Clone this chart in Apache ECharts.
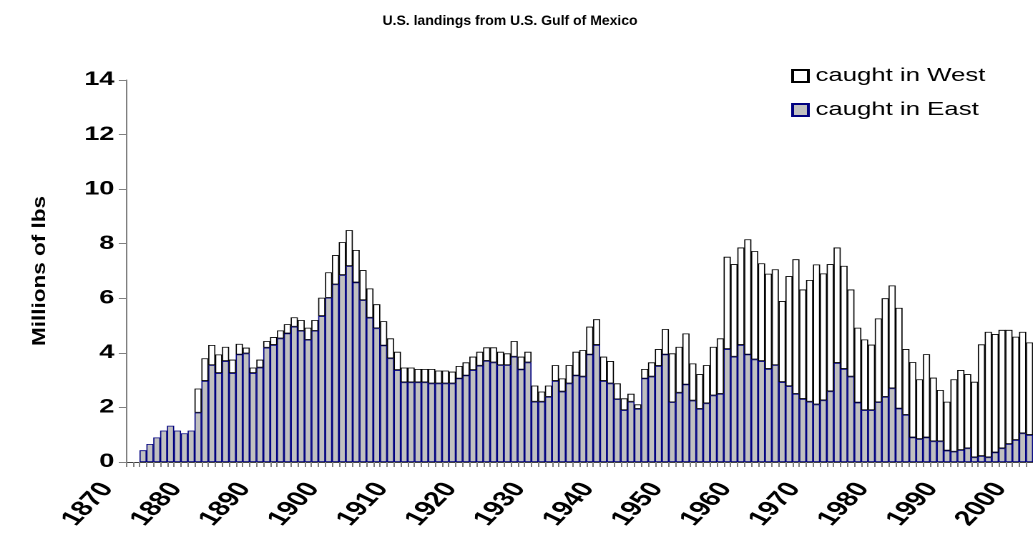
<!DOCTYPE html>
<html>
<head>
<meta charset="utf-8">
<script src="https://cdn.jsdelivr.net/npm/echarts/dist/echarts.min.js"></script>
<style>
  html, body { margin: 0; padding: 0; background: #fff; overflow: hidden; }
  /* the original picture is a horizontally stretched Excel chart */
  #chart { width: 722px; height: 533px; transform: scaleX(1.4307); transform-origin: 0 0; }
</style>
</head>
<body>
<div id="chart"></div>
<script>
const stretch = 1033 / 722;
const startYear = 1870;
const years = Array.from({ length: 132 }, (_, i) => String(startYear + i));

// millions of lbs
const eastValues = [
  "-", "-", 0.43, 0.66, 0.90, 1.15, 1.33, 1.15, 1.05, 1.15,
  1.81, 2.97, 3.55, 3.26, 3.70, 3.26, 3.94, 3.98, 3.26, 3.46,
  4.19, 4.29, 4.53, 4.71, 4.96, 4.81, 4.48, 4.81, 5.35, 6.02,
  6.51, 6.85, 7.18, 6.58, 5.93, 5.29, 4.90, 4.27, 3.80, 3.37,
  2.92, 2.92, 2.92, 2.92, 2.88, 2.88, 2.88, 2.88, 3.06, 3.17,
  3.37, 3.53, 3.71, 3.65, 3.55, 3.55, 3.86, 3.39, 3.65, 2.21,
  2.21, 2.39, 2.97, 2.58, 2.88, 3.17, 3.13, 3.94, 4.29, 2.97,
  2.88, 2.30, 1.90, 2.21, 1.95, 3.06, 3.13, 3.52, 3.94, 2.19,
  2.54, 2.84, 2.25, 1.95, 2.15, 2.44, 2.50, 4.14, 3.86, 4.29,
  3.94, 3.76, 3.70, 3.41, 3.55, 2.93, 2.78, 2.50, 2.31, 2.21,
  2.11, 2.26, 2.59, 3.63, 3.41, 3.13, 2.18, 1.90, 1.90, 2.19,
  2.39, 2.70, 1.96, 1.73, 0.90, 0.84, 0.90, 0.76, 0.76, 0.42,
  0.38, 0.44, 0.50, 0.17, 0.22, 0.17, 0.35, 0.50, 0.66, 0.81,
  1.05, 0.99
];
const westValues = [
  "-", "-", "-", "-", "-", "-", "-", "-", "-", "-",
  0.88, 0.83, 0.74, 0.68, 0.52, 0.49, 0.39, 0.21, 0.20, 0.29,
  0.24, 0.29, 0.29, 0.34, 0.34, 0.39, 0.44, 0.39, 0.67, 0.93,
  1.07, 1.21, 1.32, 1.19, 1.10, 1.07, 0.88, 0.89, 0.73, 0.67,
  0.54, 0.54, 0.49, 0.49, 0.53, 0.47, 0.47, 0.43, 0.46, 0.48,
  0.49, 0.51, 0.49, 0.55, 0.49, 0.43, 0.57, 0.47, 0.39, 0.59,
  0.37, 0.41, 0.58, 0.48, 0.67, 0.87, 0.97, 1.02, 0.94, 0.89,
  0.82, 0.58, 0.43, 0.29, 0.16, 0.35, 0.52, 0.62, 0.93, 1.79,
  1.68, 1.87, 1.36, 1.27, 1.40, 1.78, 2.03, 3.38, 3.39, 3.57,
  4.22, 3.97, 3.58, 3.49, 3.51, 2.97, 4.03, 4.93, 4.01, 4.46,
  5.13, 4.65, 4.66, 4.23, 3.78, 3.19, 2.74, 2.59, 2.40, 3.07,
  3.61, 3.77, 3.69, 2.41, 2.76, 2.19, 3.05, 2.33, 1.88, 1.79,
  2.65, 2.93, 2.72, 2.77, 4.09, 4.60, 4.34, 4.34, 4.18, 3.78,
  3.72, 3.39
];
const yMin = 0, yMax = 14, yStep = 2;

const font = "'Liberation Sans', Arial, sans-serif";
// render at 2x so the stretched page stays sharp
const chart = echarts.init(document.getElementById("chart"), null, { devicePixelRatio: 2 });
chart.setOption({
  animation: false,
  backgroundColor: "#fff",
  graphic: [
    {
      // title is not stretched in the original, so undo the page stretch
      type: "text",
      x: 356.5,
      y: 21,
      scaleX: 1 / stretch,
      style: {
        text: "U.S. landings from U.S. Gulf of Mexico",
        fontFamily: font,
        fontSize: 14,
        fontWeight: "bold",
        fill: "#000",
        align: "center",
        verticalAlign: "middle",
      },
    },
    {
      // y axis name, long and narrow as in the original
      type: "text",
      x: 28,
      y: 271,
      rotation: Math.PI / 2,
      scaleX: 1.25,
      scaleY: 1 / stretch,
      style: {
        text: "Millions of lbs",
        fontFamily: font,
        fontSize: 18,
        fontWeight: "bold",
        fill: "#000",
        align: "center",
        verticalAlign: "middle",
      },
    },
  ],
  legend: {
    orient: "vertical",
    left: 548,
    top: 62,
    itemWidth: 11,
    itemHeight: 12,
    itemGap: 16,
    icon: "rect",
    data: ["caught in West", "caught in East"],
    textStyle: { fontFamily: font, fontSize: 18, color: "#000" },
  },
  grid: { left: 88, right: 0, top: 80, bottom: 71 },
  xAxis: {
    type: "category",
    data: years,
    boundaryGap: true,
    axisLine: { lineStyle: { color: "#404040", width: 1 } },
    axisTick: { show: true, interval: 0, length: 5, lineStyle: { color: "#808080" } },
    axisLabel: {
      interval: 9,
      rotate: 55,
      margin: 1,
      padding: [0, 27, 0, 0],
      fontFamily: font,
      fontSize: 21,
      fontWeight: "bold",
      color: "#000",
    },
  },
  yAxis: {
    type: "value",
    min: yMin,
    max: yMax,
    interval: yStep,
    axisLine: { show: true, lineStyle: { color: "#808080", width: 1 } },
    axisTick: { show: true, length: 5, lineStyle: { color: "#808080" } },
    axisLabel: { fontFamily: font, fontSize: 19, fontWeight: "bold", color: "#000", margin: 8 },
    splitLine: { show: false },
  },
  series: [
    {
      name: "caught in East",
      type: "bar",
      stack: "total",
      barWidth: 5,
      data: eastValues,
      itemStyle: { color: "#C0C0C0", borderColor: "#000080", borderWidth: 0.8 },
    },
    {
      name: "caught in West",
      type: "bar",
      stack: "total",
      barWidth: 5,
      data: westValues,
      itemStyle: { color: "#FFFFFF", borderColor: "#000000", borderWidth: 0.8 },
    },
  ],
});
</script>
</body>
</html>
